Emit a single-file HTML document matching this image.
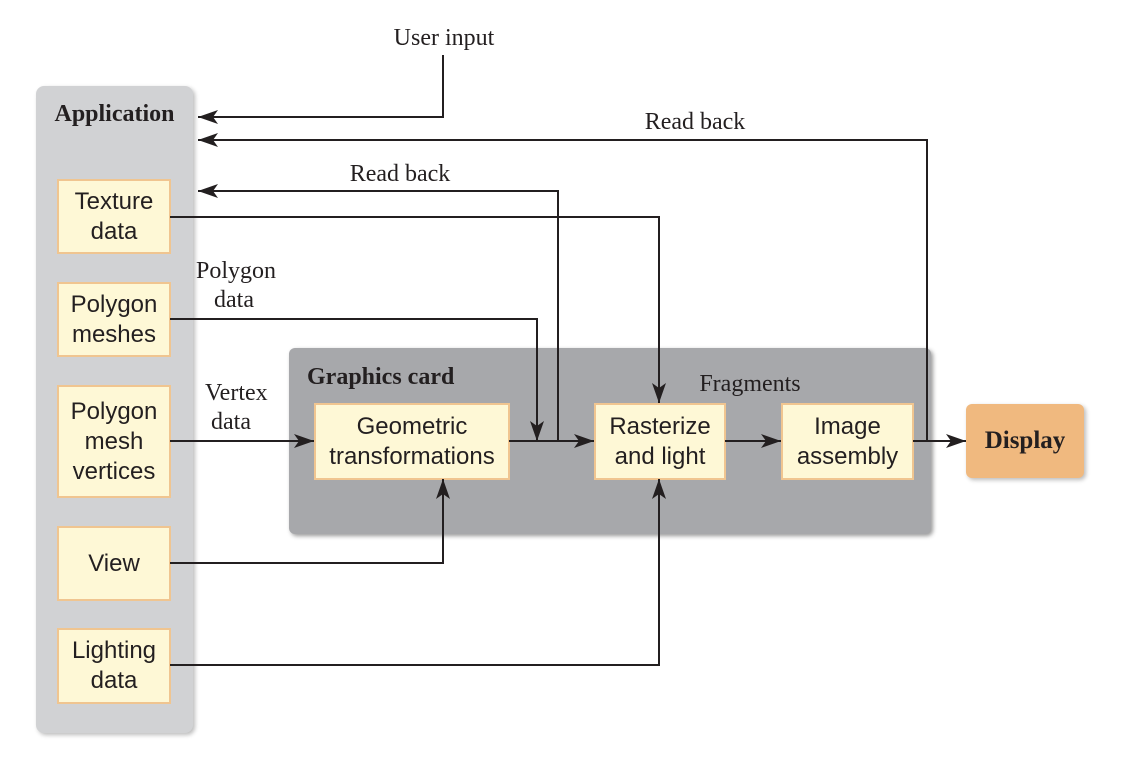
<!DOCTYPE html>
<html><head><style>
body{margin:0;background:#fff;width:1124px;height:763px;position:relative;overflow:hidden;font-family:"Liberation Sans",sans-serif}
.b{position:absolute;background:#fef8d6;border:2px solid #f0c590;box-sizing:border-box;display:flex;align-items:center;justify-content:center;text-align:center;font-size:24px;line-height:30px;color:#231f20}
.s{position:absolute;font-family:"Liberation Serif",serif;font-size:24px;color:#231f20;text-align:center;line-height:29px;white-space:nowrap}
.c{width:300px;margin-left:-150px}
</style></head><body>
<div style="position:absolute;left:36px;top:86px;width:157px;height:647px;background:#d1d2d4;border-radius:8px;box-shadow:2px 2px 4px #bbb"></div>
<div style="position:absolute;left:289px;top:348px;width:642px;height:186px;background:#a7a8ab;border-radius:6px;box-shadow:2px 2px 4px #999"></div>
<div style="position:absolute;left:966px;top:404px;width:118px;height:74px;background:#f0b97f;border-radius:6px;box-shadow:2px 2px 4px #bbb"></div>
<div class="s" style="left:36px;top:100px;width:157px;font-weight:bold;font-size:24px">Application</div>
<div class="s" style="left:307px;top:363px;font-weight:bold;font-size:24px;text-align:left">Graphics card</div>
<div class="s" style="left:966px;top:426px;width:118px;font-weight:bold;font-size:25px">Display</div>
<div class="b" style="left:57px;top:179px;width:114px;height:75px">Texture<br>data</div>
<div class="b" style="left:57px;top:282px;width:114px;height:75px">Polygon<br>meshes</div>
<div class="b" style="left:57px;top:385px;width:114px;height:113px">Polygon<br>mesh<br>vertices</div>
<div class="b" style="left:57px;top:526px;width:114px;height:75px">View</div>
<div class="b" style="left:57px;top:628px;width:114px;height:76px">Lighting<br>data</div>
<div class="b" style="left:314px;top:403px;width:196px;height:77px">Geometric<br>transformations</div>
<div class="b" style="left:594px;top:403px;width:132px;height:77px">Rasterize<br>and light</div>
<div class="b" style="left:781px;top:403px;width:133px;height:77px">Image<br>assembly</div>
<div class="s c" style="left:444px;top:24px">User input</div>
<div class="s c" style="left:695px;top:108px">Read back</div>
<div class="s c" style="left:400px;top:160px">Read back</div>
<div class="s" style="left:196px;top:257px;text-align:left">Polygon<br>&nbsp;&nbsp;&nbsp;data</div>
<div class="s" style="left:205px;top:379px;text-align:left">Vertex<br>&nbsp;data</div>
<div class="s c" style="left:750px;top:370px">Fragments</div>
<svg width="1124" height="763" style="position:absolute;left:0;top:0">
<defs>
<marker id="m" viewBox="0 0 20 14" refX="20" refY="7" markerWidth="20" markerHeight="14" markerUnits="userSpaceOnUse" orient="auto"><path d="M0,0L20,7L0,14L5,7Z" fill="#231f20"/></marker></defs>
<g fill="none" stroke="#231f20" stroke-width="2">
<path d="M443,55V117H198" marker-end="url(#m)"/>
<path d="M927,441V140H198" marker-end="url(#m)"/>
<path d="M558,441V191H198" marker-end="url(#m)"/>
<path d="M170,217H659V403" marker-end="url(#m)"/>
<path d="M170,319H537V441" marker-end="url(#m)"/>
<path d="M170,441H314" marker-end="url(#m)"/>
<path d="M170,563H443V479" marker-end="url(#m)"/>
<path d="M170,665H659V479" marker-end="url(#m)"/>
<path d="M509,441H594" marker-end="url(#m)"/>
<path d="M725,441H781" marker-end="url(#m)"/>
<path d="M913,441H966" marker-end="url(#m)"/>
</g></svg>
</body></html>
